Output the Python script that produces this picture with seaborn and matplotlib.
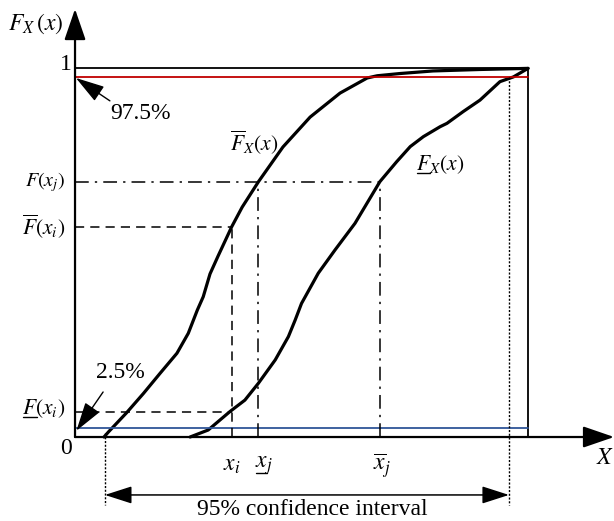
import matplotlib
matplotlib.use("Agg")
import matplotlib.pyplot as plt
import seaborn as sns
import pandas as pd

# Upper bound CDF  \bar F_X(x)
upper_x = [0.64, 0.74, 1.14, 1.51, 1.88, 2.25, 2.50, 2.70, 2.83, 2.98, 3.16, 3.46,
           3.69, 4.05, 4.59, 5.19, 5.85, 6.45, 6.67, 7.17, 7.90, 8.94, 10.0]
upper_F = [0.0, 0.014, 0.066, 0.118, 0.173, 0.227, 0.281, 0.344, 0.380, 0.442, 0.491,
           0.570, 0.623, 0.692, 0.786, 0.867, 0.932, 0.973, 0.979, 0.985, 0.992, 0.996, 0.999]

# Lower bound CDF  \underline F_X(x)
lower_x = [2.54, 2.94, 3.42, 3.75, 4.05, 4.42, 4.71, 4.86, 5.00, 5.37, 5.74, 6.18,
           6.73, 7.10, 7.40, 7.69, 8.06, 8.21, 8.57, 8.94, 9.38, 9.68, 10.0]
lower_F = [0.0, 0.019, 0.069, 0.100, 0.146, 0.209, 0.272, 0.317, 0.362, 0.444, 0.507,
           0.579, 0.692, 0.746, 0.787, 0.814, 0.841, 0.850, 0.882, 0.913, 0.963, 0.976, 0.999]

# Reference levels and marked points
p_hi, p_lo = 0.975, 0.025
F_xj, Fbar_xi, Flow_xi = 0.692, 0.570, 0.069
x_i, x_j_low, x_j_high = 3.46, 4.05, 6.73
ci_left, ci_right = 0.66, 9.58
x_max = 10.0

sns.set_theme(style="white")
plt.rcParams["mathtext.fontset"] = "stix"
plt.rcParams["font.family"] = ["Liberation Serif", "DejaVu Serif"]

fig = plt.figure(figsize=(6.14, 5.21), dpi=100)
ax = fig.add_axes([0, 0, 1, 1])
k = "black"

# CDF bounds
df_u = pd.DataFrame({"x": upper_x, "F": upper_F})
df_l = pd.DataFrame({"x": lower_x, "F": lower_F})
sns.lineplot(data=df_u, x="x", y="F", sort=False, estimator=None, color=k, lw=2.3, ax=ax)
sns.lineplot(data=df_l, x="x", y="F", sort=False, estimator=None, color=k, lw=2.3, ax=ax)
ax.set_xlim(-1.656, 11.898)
ax.set_ylim(-0.2276, 1.1843)
ax.axis("off")

# axes with arrows
ax.annotate("", xy=(11.9, 0), xytext=(0, 0),
            arrowprops=dict(arrowstyle="-|>,head_length=1.6,head_width=0.55", color=k, lw=1.6,
                            shrinkA=0, shrinkB=0))
ax.annotate("", xy=(0, 1.16), xytext=(0, 0),
            arrowprops=dict(arrowstyle="-|>,head_length=1.6,head_width=0.55", color=k, lw=1.6,
                            shrinkA=0, shrinkB=0))

# box at F = 1 and x = x_max
ax.plot([0, x_max], [1, 1], color=k, lw=1.3)
ax.plot([x_max, x_max], [0, 1], color=k, lw=1.3)

# 97.5% and 2.5% levels
ax.plot([0, x_max], [p_hi, p_hi], color="#c00000", lw=1.3)
ax.plot([0, x_max], [p_lo, p_lo], color="#2f5597", lw=1.3)

# dashed guides for x_i
ax.plot([0, x_i], [Fbar_xi, Fbar_xi], color=k, lw=1.1, ls=(0, (6, 4)))
ax.plot([x_i, x_i], [0, Fbar_xi], color=k, lw=1.1, ls=(0, (6, 4)))
ax.plot([0, x_i], [Flow_xi, Flow_xi], color=k, lw=1.1, ls=(0, (6, 4)))

# dash-dot guides for x_j
dd = (0, (9, 4, 1.5, 4))
ax.plot([0, x_j_high], [F_xj, F_xj], color=k, lw=1.1, ls=dd)
ax.plot([x_j_low, x_j_low], [0, F_xj], color=k, lw=1.1, ls=dd)
ax.plot([x_j_high, x_j_high], [0, F_xj], color=k, lw=1.1, ls=dd)

# confidence interval
ax.plot([ci_left, ci_left], [0.012, -0.184], color=k, lw=1.0, ls=(0, (1.5, 1.2)))
ax.plot([ci_right, ci_right], [p_hi, -0.184], color=k, lw=1.0, ls=(0, (1.5, 1.2)))
ax.annotate("", xy=(ci_left, -0.157), xytext=(ci_right, -0.157),
            arrowprops=dict(arrowstyle="<|-|>,head_length=1.4,head_width=0.45", color=k, lw=1.1,
                            shrinkA=0, shrinkB=0))
ax.text(5.23, -0.196, "95% confidence interval", fontsize=17,
        ha="center", va="center", color=k)

# percentage pointers
ax.text(0.77, 0.878, "97.5%", fontsize=17, ha="left", va="center", color=k)
ax.annotate("", xy=(0.02, p_hi - 0.002), xytext=(0.77, 0.911),
            arrowprops=dict(arrowstyle="-|>,head_length=1.5,head_width=0.45", color=k, lw=1.0,
                            shrinkA=0, shrinkB=0))
ax.text(0.46, 0.176, "2.5%", fontsize=17, ha="left", va="center", color=k)
ax.annotate("", xy=(0.03, p_lo - 0.008), xytext=(0.62, 0.122),
            arrowprops=dict(arrowstyle="-|>,head_length=1.5,head_width=0.45", color=k, lw=1.0,
                            shrinkA=0, shrinkB=0))

# axis labels
ax.text(-0.25, 1.12, r"$F_X\,(x)$", fontsize=17, ha="right", va="center", color=k)
ax.text(11.7, -0.058, r"$X$", fontsize=17, ha="center", va="center", color=k)
ax.text(-0.08, 1.01, "1", fontsize=17, ha="right", va="center", color=k)
ax.text(-0.08, -0.03, "0", fontsize=17, ha="right", va="center", color=k)

# level labels
ax.text(-0.22, F_xj, r"$F(x_j)$", fontsize=14.5, ha="right", va="center", color=k)
ax.text(-0.22, Fbar_xi, r"$\overline{F}(x_i)$", fontsize=15.5, ha="right", va="center", color=k)
t_flow = ax.text(-0.22, Flow_xi + 0.008, r"$F(x_i)$", fontsize=15.5, ha="right", va="center", color=k)

# x labels
ax.text(x_i, -0.078, r"$x_i$", fontsize=17, ha="center", va="center", color=k)
t_xj = ax.text(x_j_low + 0.12, -0.078, r"$x_j$", fontsize=17, ha="center", va="center", color=k)
ax.text(x_j_high + 0.05, -0.078, r"$\overline{x}_j$", fontsize=17, ha="center", va="center", color=k)

# curve labels
ax.text(3.95, 0.797, r"$\overline{F}_X(x)$", fontsize=15.5, ha="center", va="center", color=k)
t_fl = ax.text(8.05, 0.737, r"$F_X(x)$", fontsize=15.5, ha="center", va="center", color=k)


def underline_lead(txt, lead, drop=2.0, pad=1.0):
    """Draw a bar below the leading glyph(s) of a text (mathtext lacks \\underline)."""
    fig.canvas.draw()
    r = fig.canvas.get_renderer()
    bb = txt.get_window_extent(r)
    probe = ax.text(0, 0, lead, fontsize=txt.get_fontsize())
    w = probe.get_window_extent(r).width
    probe.remove()
    inv = ax.transData.inverted()
    x0, y0 = inv.transform((bb.x0 + pad, bb.y0 + drop))
    x1, _ = inv.transform((bb.x0 + w - pad, bb.y0 + drop))
    ax.plot([x0, x1], [y0, y0], color=k, lw=1.0)


underline_lead(t_flow, r"$F$", drop=3.0)
underline_lead(t_xj, r"$x$", drop=4.0)
underline_lead(t_fl, r"$F$", drop=3.0)

fig.savefig("out.png", dpi=100)
